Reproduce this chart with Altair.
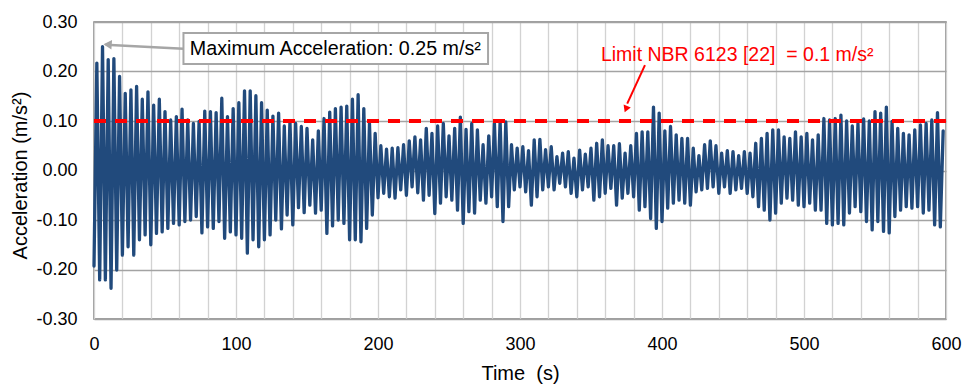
import altair as alt
import pandas as pd

# Positive peaks of the acceleration record, one per 4 s cycle (m/s²)
upper_peaks = [
    0.217, 0.250, 0.224, 0.226, 0.190, 0.156, 0.163, 0.170, 0.144, 0.159,
    0.132, 0.144, 0.119, 0.102, 0.109, 0.124, 0.102, 0.095, 0.099, 0.120,
    0.119, 0.117, 0.146, 0.109, 0.125, 0.137, 0.161, 0.161, 0.151, 0.137,
    0.122, 0.110, 0.116, 0.090, 0.100, 0.095, 0.089, 0.085, 0.062, 0.080,
    0.105, 0.118, 0.125, 0.128, 0.130, 0.144, 0.153, 0.125, 0.095, 0.075,
    0.050, 0.043, 0.045, 0.046, 0.052, 0.060, 0.068, 0.062, 0.085, 0.075,
    0.090, 0.095, 0.070, 0.085, 0.108, 0.083, 0.095, 0.082, 0.052, 0.070,
    0.095, 0.100, 0.098, 0.052, 0.045, 0.048, 0.040, 0.062, 0.063, 0.042,
    0.048, 0.028, 0.035, 0.038, 0.025, 0.041, 0.033, 0.045, 0.055, 0.062,
    0.050, 0.050, 0.054, 0.035, 0.050, 0.075, 0.078, 0.078, 0.128, 0.116,
    0.080, 0.089, 0.072, 0.065, 0.065, 0.045, 0.030, 0.052, 0.060, 0.050,
    0.035, 0.040, 0.038, 0.030, 0.038, 0.035, 0.055, 0.065, 0.075, 0.082,
    0.082, 0.068, 0.065, 0.078, 0.068, 0.075, 0.062, 0.072, 0.105, 0.102,
    0.105, 0.112, 0.100, 0.090, 0.095, 0.104, 0.100, 0.119, 0.116, 0.128,
    0.099, 0.085, 0.075, 0.072, 0.082, 0.092, 0.095, 0.102, 0.117, 0.080,
]

# Negative peaks, one per cycle, 2 s before the matching positive peak (m/s²)
lower_peaks = [
    -0.193, -0.221, -0.221, -0.238, -0.201, -0.171, -0.154, -0.171, -0.140, -0.130,
    -0.150, -0.127, -0.124, -0.117, -0.107, -0.110, -0.103, -0.100, -0.093, -0.126,
    -0.114, -0.117, -0.103, -0.137, -0.124, -0.130, -0.137, -0.167, -0.140, -0.154,
    -0.140, -0.130, -0.100, -0.118, -0.090, -0.110, -0.075, -0.085, -0.070, -0.086,
    -0.080, -0.127, -0.112, -0.100, -0.107, -0.140, -0.140, -0.144, -0.117, -0.090,
    -0.055, -0.046, -0.053, -0.056, -0.039, -0.050, -0.033, -0.045, -0.060, -0.050,
    -0.087, -0.066, -0.053, -0.060, -0.080, -0.107, -0.083, -0.086, -0.060, -0.066,
    -0.053, -0.073, -0.103, -0.073, -0.039, -0.033, -0.043, -0.070, -0.053, -0.039,
    -0.033, -0.039, -0.026, -0.033, -0.046, -0.053, -0.039, -0.033, -0.060, -0.053,
    -0.046, -0.036, -0.070, -0.056, -0.046, -0.053, -0.080, -0.073, -0.097, -0.117,
    -0.103, -0.076, -0.066, -0.060, -0.066, -0.070, -0.043, -0.039, -0.036, -0.033,
    -0.046, -0.033, -0.046, -0.039, -0.036, -0.046, -0.053, -0.073, -0.080, -0.100,
    -0.086, -0.066, -0.056, -0.060, -0.070, -0.073, -0.066, -0.080, -0.080, -0.107,
    -0.110, -0.107, -0.110, -0.086, -0.073, -0.083, -0.103, -0.120, -0.103, -0.123,
    -0.126, -0.093, -0.080, -0.073, -0.076, -0.073, -0.086, -0.080, -0.110, -0.114,
]

half_cycle_s = 2.0
limit_value = 0.1
x_ticks = list(range(0, 601, 20))
y_ticks = [-0.3, -0.2, -0.1, 0.0, 0.1, 0.2, 0.3]

rows = []
for k, (lo, hi) in enumerate(zip(lower_peaks, upper_peaks)):
    rows.append({"time": 2 * k * half_cycle_s, "acc": lo})
    rows.append({"time": (2 * k + 1) * half_cycle_s, "acc": hi})
signal = pd.DataFrame(rows)

peak_row = signal.loc[signal["acc"].idxmax()]
t_peak, a_peak = float(peak_row["time"]), float(peak_row["acc"])

FONT = "Liberation Sans"
BLUE = "#214a7c"
RED = "#ff0000"
GREY = "#a6a6a6"

x_scale = alt.Scale(domain=[0, 600], nice=False, zero=False)
y_scale = alt.Scale(domain=[-0.3, 0.3], nice=False)

x_axis = alt.Axis(
    values=x_ticks,
    labelExpr="datum.value % 100 === 0 ? datum.label : ''",
    labelFlush=False, labelOverlap=False, labelBound=False,
    ticks=False, domain=False,
    grid=True, gridColor="#d2d2d2", gridWidth=1.3,
    labelFont=FONT, labelFontSize=18, labelColor="#000000", labelPadding=16,
    title="Time\u00a0 (s)", titleFont=FONT, titleFontSize=20,
    titleFontWeight="normal", titleColor="#000000",
    titleBaseline="alphabetic", titleX=426, titleY=60,
)
y_axis = alt.Axis(
    values=y_ticks,
    labelExpr="replace(format(datum.value, '.2f'), '\u2212', '-')",
    labelOverlap=False, labelFlush=False, labelBound=False,
    ticks=False, domain=False,
    grid=True, gridColor="#a3a3a3", gridWidth=1.3,
    labelFont=FONT, labelFontSize=18, labelColor="#000000", labelPadding=17,
    title="Acceleration (m/s²)", titleFont=FONT, titleFontSize=20,
    titleFontWeight="normal", titleColor="#000000",
    titleBaseline="alphabetic", titleAngle=270, titleX=-68, titleY=153,
)


def xenc(field):
    return alt.X(field, type="quantitative", scale=x_scale, axis=x_axis)


def yenc(field):
    return alt.Y(field, type="quantitative", scale=y_scale, axis=y_axis)


line = alt.Chart(signal).mark_line(
    color=BLUE, strokeWidth=3.3, strokeJoin="round", strokeCap="round"
).encode(x=xenc("time"), y=yenc("acc"))

limit_rule = alt.Chart(pd.DataFrame({"acc": [limit_value]})).mark_rule(
    color=RED, strokeWidth=4, strokeDash=[12, 9]
).encode(y=yenc("acc"))

# Callout for the peak acceleration
box_df = pd.DataFrame({"x": [63.0], "x2": [277.5], "y": [0.215], "y2": [0.278]})
box = alt.Chart(box_df).mark_rect(
    fill="white", stroke=GREY, strokeWidth=2
).encode(x=xenc("x"), x2="x2:Q", y=yenc("y"), y2="y2:Q")

box_text = alt.Chart(pd.DataFrame({
    "x": [67.5], "y": [0.233],
    "label": [f"Maximum Acceleration: {a_peak:.2f} m/s²"],
})).mark_text(
    align="left", baseline="alphabetic", font=FONT, fontSize=19.7, color="#000000"
).encode(x=xenc("x"), y=yenc("y"), text="label:N")

peak_arrow = alt.Chart(pd.DataFrame({
    "x": [t_peak + 2.2], "y": [a_peak + 0.004], "x2": [63.0], "y2": [0.246],
})).mark_rule(color=GREY, strokeWidth=2.5).encode(
    x=xenc("x"), y=yenc("y"), x2="x2:Q", y2="y2:Q",
)
peak_head = alt.Chart(pd.DataFrame({"x": [t_peak + 3.6], "y": [a_peak + 0.0045]})).mark_point(
    shape="triangle-left", filled=True, color=GREY, opacity=1, size=90, angle=4
).encode(x=xenc("x"), y=yenc("y"))

# Callout for the comfort limit
limit_text = alt.Chart(pd.DataFrame({
    "x": [357.0], "y": [0.222],
    "label": [f"Limit NBR 6123 [22]\u00a0 = {limit_value:g} m/s²"],
})).mark_text(
    align="left", baseline="alphabetic", font=FONT, fontSize=19.5, color=RED
).encode(x=xenc("x"), y=yenc("y"), text="label:N")

limit_arrow = alt.Chart(pd.DataFrame({
    "x": [388.0], "y": [0.213], "x2": [375.5], "y2": [0.135],
})).mark_rule(color=RED, strokeWidth=2).encode(
    x=xenc("x"), y=yenc("y"), x2="x2:Q", y2="y2:Q",
)
limit_head = alt.Chart(pd.DataFrame({"x": [374.6], "y": [0.124]})).mark_point(
    shape="triangle-down", filled=True, color=RED, opacity=1, size=60, angle=22
).encode(x=xenc("x"), y=yenc("y"))

chart = alt.layer(
    line, limit_rule, peak_arrow, peak_head, box, box_text,
    limit_arrow, limit_head, limit_text,
).properties(
    width=852, height=297,
    autosize=alt.AutoSizeParams(type="none"),
    padding={"left": 94, "top": 22, "right": 25, "bottom": 70},
    background="white",
).configure_view(stroke="#808080", strokeWidth=1.5)

chart.save("out.html", embed_options={"renderer": "svg", "actions": False})
